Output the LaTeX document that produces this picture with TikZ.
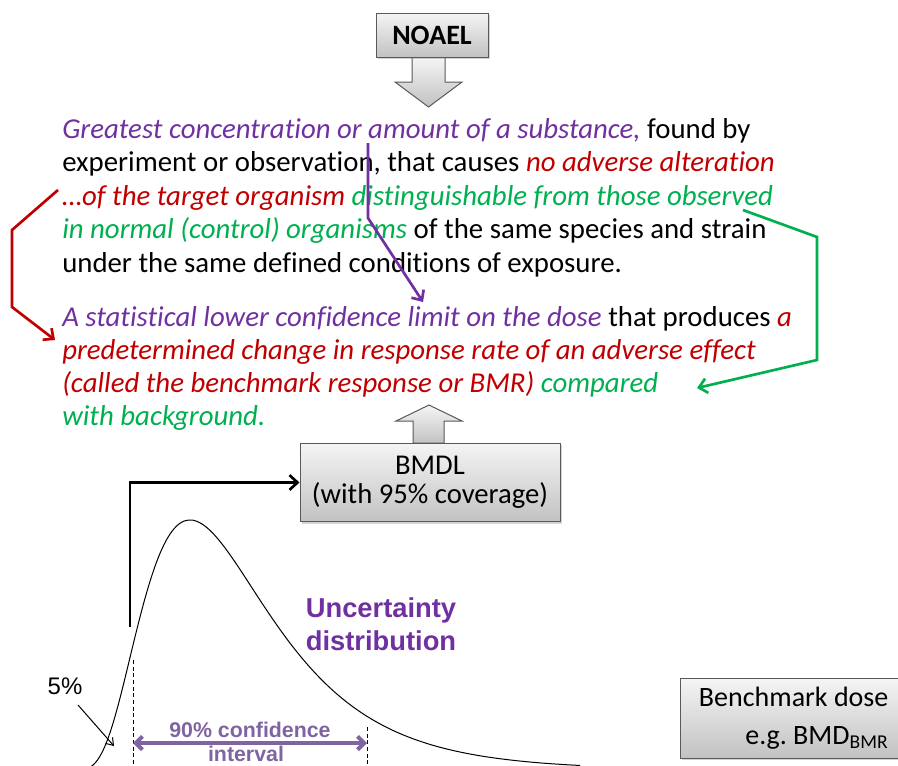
\documentclass[tikz,border=0pt]{standalone}
\usepackage{fontspec}
\setmainfont[Ligatures=NoCommon]{Carlito}
\newfontfamily\arialfont{Liberation Sans}
\usetikzlibrary{arrows.meta,shadows}

\definecolor{defpurple}{RGB}{112,48,160}
\definecolor{defred}{RGB}{192,0,0}
\definecolor{defgreen}{RGB}{0,176,80}
\definecolor{cipurple}{RGB}{128,100,162}

\newcommand{\purpit}[1]{{\itshape\color{defpurple}#1}}
\newcommand{\redit}[1]{{\itshape\color{defred}#1}}
\newcommand{\greenit}[1]{{\itshape\color{defgreen}#1}}
\newcommand{\deffont}{\fontsize{21.6}{25}\selectfont}

\begin{document}
\begin{tikzpicture}[x=0.75pt,y=0.75pt,yscale=-1,xscale=1,
  deftext/.style={anchor=base west,inner sep=0pt,font=\deffont},
  greybox/.style={draw=black!65,line width=0.75pt,top color=black!4,bottom color=black!24,
    drop shadow={shadow xshift=1.5pt,shadow yshift=-1.5pt,opacity=0.35}},
  greyarrow/.style={draw=black!65,line width=0.75pt,top color=black!4,bottom color=black!24},
  linkarrow/.style={line width=2pt,-{Straight Barb[length=6pt,width=11pt]}}
  ]
\useasboundingbox (0,0) rectangle (898,765);

%Shape: Down Arrow [id:noaelarrow]
\draw [greyarrow] (412,57) -- (445,57) -- (445,82) -- (462,82) -- (428.5,107) -- (395,82) -- (412,82) -- cycle ;
%Shape: Rectangle [id:noael]
\node [greybox,minimum width=84pt,minimum height=33pt,font=\fontsize{21}{21}\selectfont\bfseries] (noael) at (432,35) {NOAEL};

%Text lines: NOAEL definition
\node [deftext] (def1) at (62,138) {\purpit{Greatest concentration or amount of a substance,} found by};
\node [deftext] (def2) at (62,171.5) {experiment or observation, that causes \redit{no adverse alteration}};
\node [deftext] (def3) at (62,205) {\redit{…of the target organism} \greenit{distinguishable from those observed}};
\node [deftext] (def4) at (62,238.5) {\greenit{in normal (control) organisms} of the same species and strain};
\node [deftext] (def5) at (62,272) {under the same defined conditions of exposure.};

%Text lines: BMDL definition
\node [deftext] (lim1) at (62,326) {\purpit{A statistical lower confidence limit on the dose} that produces \redit{a}};
\node [deftext] (lim2) at (62,359) {\redit{predetermined change in response rate of an adverse effect}};
\node [deftext] (lim3) at (62,392) {\redit{(called the benchmark response or BMR)} \greenit{compared}};
\node [deftext] (lim4) at (62,425) {\greenit{with background.}};

%Straight Lines [id:redlink]
\coordinate (redfrom) at (58,190) ;
\coordinate (redbendA) at (12,230) ;
\coordinate (redbendB) at (12,307) ;
\coordinate (redto) at (55,340) ;
\draw [linkarrow,color=defred] (redfrom) -- (redbendA) -- (redbendB) -- (redto) ;
%Straight Lines [id:purplelink]
\coordinate (purpfrom) at (368,143) ;
\coordinate (purpbend) at (368,218) ;
\coordinate (purpto) at (423,302) ;
\draw [linkarrow,color=defpurple] (purpfrom) -- (purpbend) -- (purpto) ;
%Straight Lines [id:greenlink]
\coordinate (greenfrom) at (743,210) ;
\coordinate (greenbendA) at (817,237) ;
\coordinate (greenbendB) at (817,360) ;
\coordinate (greento) at (697,388) ;
\draw [linkarrow,color=defgreen] (greenfrom) -- (greenbendA) -- (greenbendB) -- (greento) ;

%Shape: Up Arrow [id:bmdlarrow]
\draw [greyarrow] (413,443) -- (413,421) -- (396,421) -- (429,405) -- (462,421) -- (444,421) -- (444,443) -- cycle ;
%Shape: Rectangle [id:bmdlbox]
\node [greybox,minimum width=195pt,minimum height=59pt,align=center,font=\fontsize{21.5}{21.75}\selectfont] (bmdlbox) at (430,482.5) {BMDL\\(with 95\% coverage)};

%Shape: Rectangle [id:bmdbox]
\node [greybox,minimum height=60pt,text width=146pt,inner xsep=10.25pt,align=flush right,font=\frenchspacing\fontsize{21}{28.5}\selectfont] (bmdbox) at (791,718) {Benchmark dose\\e.g. BMD\textsubscript{BMR}};

%Curve: uncertainty distribution
\draw [line width=0.75pt,domain=85:580,samples=120,smooth] plot (\x,{770-250*exp(-(ln((\x-60)/130))^2/0.48)}) ;

%Straight Lines [id:lowerline]
\coordinate (lowq) at (130,627) ;
\draw [line width=2pt,-{Straight Barb[length=6pt,width=11pt]}] (lowq) |- (bmdlbox.west) ;

%Dashed lines [id:cilimits]
\coordinate (ciLtop) at (133,660) ;
\coordinate (ciLbot) at (133,766) ;
\coordinate (ciRtop) at (367,727) ;
\coordinate (ciRbot) at (367,766) ;
\draw [dashed,line width=0.6pt,dash pattern=on 3pt off 2pt] (ciLtop) -- (ciLbot) ;
\draw [dashed,line width=0.6pt,dash pattern=on 3pt off 2pt] (ciRtop) -- (ciRbot) ;
\coordinate (ciL) at (133,743) ;
\coordinate (ciR) at (367,743) ;
\draw [color=cipurple,line width=3pt,{Straight Barb[length=5pt,width=10pt]}-{Straight Barb[length=5pt,width=10pt]}] (ciL) -- (ciR) ;
\node [anchor=base,inner sep=0pt,color=cipurple,font=\arialfont\bfseries\fontsize{16}{16}\selectfont] (cilabel) at (250,737) {90\% confidence};
\node [anchor=base,inner sep=0pt,color=cipurple,font=\arialfont\bfseries\fontsize{16}{16}\selectfont] (cilabelb) at (246,761) {interval};

%Labels: distribution
\node [anchor=base,inner sep=0pt,color=defpurple,font=\arialfont\bfseries\fontsize{20.5}{20.5}\selectfont] (uncA) at (381,617) {Uncertainty};
\node [anchor=base,inner sep=0pt,color=defpurple,font=\arialfont\bfseries\fontsize{20.5}{20.5}\selectfont] (uncB) at (381,650) {distribution};

%Label: tail
\node [anchor=base,inner sep=0pt,font=\arialfont\fontsize{18}{18}\selectfont] (pct) at (65,694) {5\%};
\coordinate (pctfrom) at (78,705) ;
\coordinate (pctto) at (114,746) ;
\draw [line width=0.75pt,-{Straight Barb[length=5pt,width=7pt]}] (pctfrom) -- (pctto) ;
\end{tikzpicture}
\end{document}
